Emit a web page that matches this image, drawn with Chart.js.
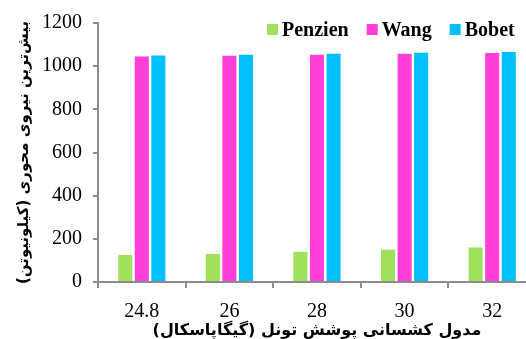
<!DOCTYPE html>
<html>
<head>
<meta charset="utf-8">
<script src="https://cdn.jsdelivr.net/npm/chart.js@4.4.1/dist/chart.umd.min.js"></script>
<style>
  html, body { margin: 0; padding: 0; background: #fff; overflow: hidden; }
  #wrap { width: 526px; height: 339px; overflow: hidden; }
  #box { width: 540px; height: 339px; }
</style>
</head>
<body>
<div id="wrap"><div id="box"><canvas id="chart"></canvas></div></div>
<script>
// Lining modulus of elasticity (GPa)
const categories = ['24.8', '26', '28', '30', '32'];
// Maximum axial force (kN) by method
const penzien = [125, 130, 140, 150, 160];
const wang    = [1045, 1048, 1053, 1057, 1061];
const bobet   = [1050, 1053, 1058, 1062, 1066];
const yTicks  = [0, 200, 400, 600, 800, 1000, 1200];

const xTitle = 'مدول کشسانی پوشش تونل (گیگاپاسکال)\u200F';
const yTitle = 'بیش‌ترین نیروی محوری (کیلونیوتن)\u200F';

const serif = "'Liberation Serif', 'Times New Roman', serif";
const arabic = "'DejaVu Sans', sans-serif";
const axisGrey = '#8c8c8c';

// Legend drawn on top of the plot, in the upper-right corner
const topLegend = {
  id: 'topLegend',
  afterDraw(chart, args, opts) {
    const ctx = chart.ctx;
    ctx.save();
    ctx.font = 'bold 20px ' + serif;
    ctx.textBaseline = 'alphabetic';
    ctx.textAlign = 'left';
    let x = opts.x;
    chart.data.datasets.forEach(ds => {
      ctx.fillStyle = ds.backgroundColor;
      ctx.fillRect(x, opts.y, 11, 11);
      x += 15;
      ctx.fillStyle = '#000';
      ctx.fillText(ds.label, x, opts.y + 12);
      x += ctx.measureText(ds.label).width + 18;
    });
    ctx.restore();
  }
};

new Chart(document.getElementById('chart'), {
  type: 'bar',
  data: {
    labels: categories,
    datasets: [
      { label: 'Penzien', data: penzien, backgroundColor: '#a0e05a' },
      { label: 'Wang',    data: wang,    backgroundColor: '#ff3fd6' },
      { label: 'Bobet',   data: bobet,   backgroundColor: '#00bfff' }
    ]
  },
  options: {
    responsive: true,
    maintainAspectRatio: false,
    animation: false,
    datasets: { bar: { categoryPercentage: 0.567, barPercentage: 0.85 } },
    layout: { padding: { left: 6, right: 4, top: 10, bottom: 0 } },
    plugins: {
      legend: { display: false },
      tooltip: { enabled: false },
      topLegend: { x: 267, y: 24 }
    },
    scales: {
      x: {
        afterFit(scale) { scale.height = 57; },
        grid: { display: true, drawOnChartArea: false, offset: true, color: axisGrey, lineWidth: 2, tickLength: 6 },
        border: { display: true, color: axisGrey, width: 2 },
        ticks: { color: '#000', font: { family: serif, size: 20 }, padding: 12, maxRotation: 0 },
        title: { display: true, text: xTitle, color: '#000', font: { family: arabic, size: 16, weight: 'bold' }, padding: { top: 0, bottom: -1 } }
      },
      y: {
        min: 0, max: 1200,
        afterBuildTicks(scale) { scale.ticks = yTicks.map(v => ({ value: v })); },
        afterFit(scale) { scale.width = 92; },
        grid: { display: true, drawOnChartArea: false, color: axisGrey, lineWidth: 2, tickLength: 5 },
        border: { display: true, color: axisGrey, width: 2 },
        ticks: { color: '#000', font: { family: serif, size: 20 }, padding: 11, callback: v => String(v) },
        title: { display: true, text: yTitle, color: '#000', font: { family: arabic, size: 15, weight: 'bold' }, padding: { top: 9, bottom: 4 } }
      }
    }
  },
  plugins: [topLegend]
});
</script>
</body>
</html>
